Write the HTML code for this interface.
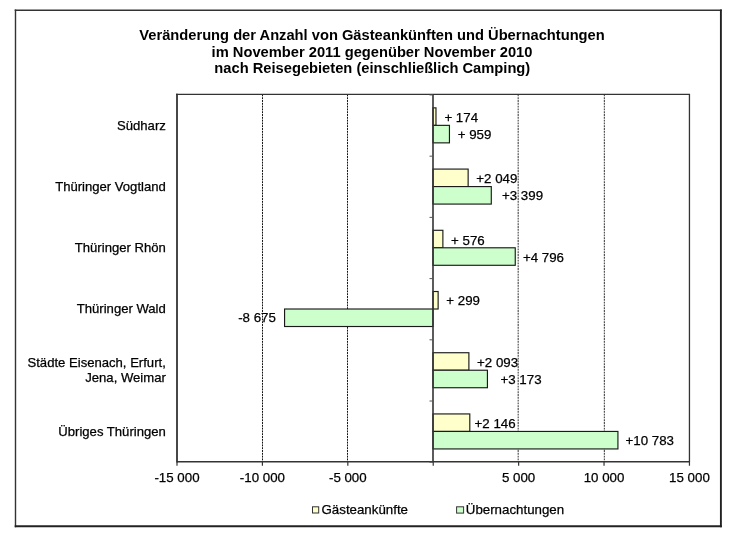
<!DOCTYPE html>
<html><head><meta charset="utf-8"><style>
html,body{margin:0;padding:0;background:#fff;}
svg{display:block;will-change:transform;}
text{font-family:"Liberation Sans",sans-serif;fill:#000;white-space:pre;}
</style></head><body>
<svg width="740" height="544" viewBox="0 0 740 544">
<rect x="0" y="0" width="740" height="544" fill="#fff"/>
<line x1="262.50" y1="94.45" x2="262.50" y2="461.75" stroke="#111" stroke-width="1" stroke-dasharray="1.9,0.9"/>
<line x1="347.50" y1="94.45" x2="347.50" y2="461.75" stroke="#111" stroke-width="1" stroke-dasharray="1.9,0.9"/>
<line x1="518.20" y1="94.45" x2="518.20" y2="461.75" stroke="#555" stroke-width="1.2" stroke-dasharray="1.9,0.9"/>
<line x1="604.40" y1="94.45" x2="604.40" y2="461.75" stroke="#555" stroke-width="1.2" stroke-dasharray="1.9,0.9"/>
<line x1="176.0" y1="94.45" x2="690.0500000000001" y2="94.45" stroke="#333" stroke-width="1.2"/>
<line x1="689.45" y1="94.45" x2="689.45" y2="461.75" stroke="#333" stroke-width="1.3"/>
<line x1="177.0" y1="93.85000000000001" x2="177.0" y2="462.45" stroke="#333" stroke-width="1.8"/>
<line x1="177.0" y1="461.75" x2="690.0500000000001" y2="461.75" stroke="#333" stroke-width="1.5"/>
<rect x="433.00" y="107.86" width="2.98" height="17.5" fill="#FFFFCC" stroke="#1a1a1a" stroke-width="1.15"/>
<rect x="433.00" y="125.36" width="16.45" height="17.5" fill="#CCFFCC" stroke="#1a1a1a" stroke-width="1.15"/>
<rect x="433.00" y="169.08" width="35.14" height="17.5" fill="#FFFFCC" stroke="#1a1a1a" stroke-width="1.15"/>
<rect x="433.00" y="186.58" width="58.29" height="17.5" fill="#CCFFCC" stroke="#1a1a1a" stroke-width="1.15"/>
<rect x="433.00" y="230.29" width="9.88" height="17.5" fill="#FFFFCC" stroke="#1a1a1a" stroke-width="1.15"/>
<rect x="433.00" y="247.79" width="82.25" height="17.5" fill="#CCFFCC" stroke="#1a1a1a" stroke-width="1.15"/>
<rect x="433.00" y="291.51" width="5.13" height="17.5" fill="#FFFFCC" stroke="#1a1a1a" stroke-width="1.15"/>
<rect x="284.57" y="309.01" width="148.43" height="17.5" fill="#CCFFCC" stroke="#1a1a1a" stroke-width="1.15"/>
<rect x="433.00" y="352.73" width="35.89" height="17.5" fill="#FFFFCC" stroke="#1a1a1a" stroke-width="1.15"/>
<rect x="433.00" y="370.23" width="54.42" height="17.5" fill="#CCFFCC" stroke="#1a1a1a" stroke-width="1.15"/>
<rect x="433.00" y="413.94" width="36.80" height="17.5" fill="#FFFFCC" stroke="#1a1a1a" stroke-width="1.15"/>
<rect x="433.00" y="431.44" width="184.93" height="17.5" fill="#CCFFCC" stroke="#1a1a1a" stroke-width="1.15"/>
<line x1="433.0" y1="94.45" x2="433.0" y2="461.75" stroke="#333" stroke-width="1.6"/>
<line x1="429.5" y1="94.95" x2="433.0" y2="94.95" stroke="#555" stroke-width="1"/>
<line x1="429.5" y1="156.17" x2="433.0" y2="156.17" stroke="#555" stroke-width="1"/>
<line x1="429.5" y1="217.38" x2="433.0" y2="217.38" stroke="#555" stroke-width="1"/>
<line x1="429.5" y1="278.60" x2="433.0" y2="278.60" stroke="#555" stroke-width="1"/>
<line x1="429.5" y1="339.82" x2="433.0" y2="339.82" stroke="#555" stroke-width="1"/>
<line x1="429.5" y1="401.03" x2="433.0" y2="401.03" stroke="#555" stroke-width="1"/>
<line x1="429.5" y1="462.25" x2="433.0" y2="462.25" stroke="#555" stroke-width="1"/>
<line x1="177.00" y1="461.75" x2="177.00" y2="465.75" stroke="#333" stroke-width="1.2"/>
<line x1="262.41" y1="461.75" x2="262.41" y2="465.75" stroke="#333" stroke-width="1.2"/>
<line x1="347.82" y1="461.75" x2="347.82" y2="465.75" stroke="#333" stroke-width="1.2"/>
<line x1="433.23" y1="461.75" x2="433.23" y2="465.75" stroke="#333" stroke-width="1.2"/>
<line x1="518.63" y1="461.75" x2="518.63" y2="465.75" stroke="#333" stroke-width="1.2"/>
<line x1="604.04" y1="461.75" x2="604.04" y2="465.75" stroke="#333" stroke-width="1.2"/>
<line x1="689.45" y1="461.75" x2="689.45" y2="465.75" stroke="#333" stroke-width="1.2"/>
<line x1="14.7" y1="10.2" x2="721.8" y2="10.2" stroke="#333" stroke-width="1.4"/>
<line x1="15.5" y1="9.5" x2="15.5" y2="527.2" stroke="#333" stroke-width="1.4"/>
<line x1="720.9" y1="9.5" x2="720.9" y2="527.2" stroke="#222" stroke-width="1.9"/>
<line x1="14.7" y1="526.3" x2="721.8" y2="526.3" stroke="#222" stroke-width="1.9"/>
<text x="372.00" y="40.10" font-size="14.7" text-anchor="middle" font-weight="bold">Veränderung der Anzahl von Gästeankünften und Übernachtungen</text>
<text x="372.00" y="56.80" font-size="14.7" text-anchor="middle" font-weight="bold">im November 2011 gegenüber November 2010</text>
<text x="372.30" y="72.80" font-size="14.7" text-anchor="middle" font-weight="bold">nach Reisegebieten (einschließlich Camping)</text>
<text x="165.80" y="129.50" font-size="13.1" text-anchor="end" stroke="#000" stroke-width="0.25">Südharz</text>
<text x="165.80" y="191.00" font-size="13.1" text-anchor="end" stroke="#000" stroke-width="0.25">Thüringer Vogtland</text>
<text x="165.80" y="251.60" font-size="13.1" text-anchor="end" stroke="#000" stroke-width="0.25">Thüringer Rhön</text>
<text x="165.80" y="312.80" font-size="13.1" text-anchor="end" stroke="#000" stroke-width="0.25">Thüringer Wald</text>
<text x="165.80" y="367.00" font-size="13.1" text-anchor="end" stroke="#000" stroke-width="0.25">Städte Eisenach, Erfurt,</text>
<text x="165.80" y="381.80" font-size="13.1" text-anchor="end" stroke="#000" stroke-width="0.25">Jena, Weimar</text>
<text x="165.80" y="435.50" font-size="13.1" text-anchor="end" stroke="#000" stroke-width="0.25">Übriges Thüringen</text>
<text x="177.00" y="481.60" font-size="13.3" text-anchor="middle" stroke="#000" stroke-width="0.25">-15 000</text>
<text x="262.41" y="481.60" font-size="13.3" text-anchor="middle" stroke="#000" stroke-width="0.25">-10 000</text>
<text x="347.82" y="481.60" font-size="13.3" text-anchor="middle" stroke="#000" stroke-width="0.25">-5 000</text>
<text x="518.63" y="481.60" font-size="13.3" text-anchor="middle" stroke="#000" stroke-width="0.25">5 000</text>
<text x="604.04" y="481.60" font-size="13.3" text-anchor="middle" stroke="#000" stroke-width="0.25">10 000</text>
<text x="689.45" y="481.60" font-size="13.3" text-anchor="middle" stroke="#000" stroke-width="0.25">15 000</text>
<text x="444.40" y="122.20" font-size="13.3" text-anchor="start" stroke="#000" stroke-width="0.25">+ 174</text>
<text x="457.70" y="138.80" font-size="13.3" text-anchor="start" stroke="#000" stroke-width="0.25">+ 959</text>
<text x="476.30" y="183.30" font-size="13.3" text-anchor="start" stroke="#000" stroke-width="0.25">+2 049</text>
<text x="502.00" y="200.30" font-size="13.3" text-anchor="start" stroke="#000" stroke-width="0.25">+3 399</text>
<text x="451.10" y="244.50" font-size="13.3" text-anchor="start" stroke="#000" stroke-width="0.25">+ 576</text>
<text x="522.90" y="261.50" font-size="13.3" text-anchor="start" stroke="#000" stroke-width="0.25">+4 796</text>
<text x="446.30" y="305.30" font-size="13.3" text-anchor="start" stroke="#000" stroke-width="0.25">+ 299</text>
<text x="238.20" y="322.20" font-size="13.3" text-anchor="start" stroke="#000" stroke-width="0.25">-8 675</text>
<text x="477.10" y="367.00" font-size="13.3" text-anchor="start" stroke="#000" stroke-width="0.25">+2 093</text>
<text x="500.50" y="384.00" font-size="13.3" text-anchor="start" stroke="#000" stroke-width="0.25">+3 173</text>
<text x="474.60" y="427.60" font-size="13.3" text-anchor="start" stroke="#000" stroke-width="0.25">+2 146</text>
<text x="625.50" y="445.00" font-size="13.3" text-anchor="start" stroke="#000" stroke-width="0.25">+10 783</text>
<rect x="312.5" y="506.8" width="6.2" height="6.2" fill="#FFFFCC" stroke="#333" stroke-width="1"/>
<text x="321.50" y="514.00" font-size="13.3" text-anchor="start" stroke="#000" stroke-width="0.25">Gästeankünfte</text>
<rect x="456.6" y="506.8" width="7" height="6.3" fill="#CCFFCC" stroke="#333" stroke-width="1"/>
<text x="465.80" y="513.80" font-size="13.3" text-anchor="start" stroke="#000" stroke-width="0.25">Übernachtungen</text>
</svg>
</body></html>
